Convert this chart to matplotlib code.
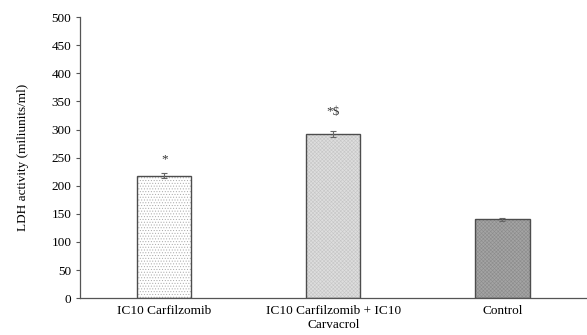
import matplotlib
matplotlib.use("Agg")
import matplotlib.pyplot as plt

categories = ["IC10 Carfilzomib", "IC10 Carfilzomib + IC10\nCarvacrol", "Control"]
values = [218, 292, 140]
errors = [4, 6, 2]
annotations = ["*", "*$", ""]
ann_values = [247, 331, None]

plt.rcParams['font.family'] = ['Liberation Serif', 'DejaVu Serif']
plt.rcParams['hatch.linewidth'] = 0.4

fig = plt.figure(figsize=(5.87, 3.35), dpi=100)
ax = fig.add_axes([0.136, 0.110, 0.864, 0.839])

faces = ['white', '#dedede', '#a4a4a4']
hatches = ['......', 'xxxxxxxxx', 'xxxxxxxxx']
hatchcolors = ['#a8a8a8', '#c6c6c6', '#8c8c8c']
x = list(range(len(categories)))
for i in x:
    plt.rcParams['hatch.color'] = hatchcolors[i]
    ax.bar(i, values[i], width=0.32, color=faces[i], edgecolor=hatchcolors[i],
           linewidth=0, hatch=hatches[i], zorder=2)
    ax.bar(i, values[i], width=0.32, color='none', edgecolor='#4d4d4d',
           linewidth=1.0, zorder=3)
ax.errorbar(x, values, yerr=errors, fmt='none', ecolor='#666666',
            elinewidth=0.8, capsize=2.5, capthick=0.8, zorder=4)
for i in x:
    if annotations[i]:
        ax.text(i, ann_values[i], annotations[i], ha='center', va='center',
                fontsize=9.5, color='#333333')

ax.set_xlim(-0.5, 2.5)
ax.set_ylim(0, 500)
ax.set_yticks(range(0, 501, 50))
ax.set_xticks(x)
ax.set_xticklabels(categories, fontsize=9.5, linespacing=1.25)
ax.tick_params(axis='x', length=0, pad=5)
ax.tick_params(axis='y', labelsize=9.5, length=3, width=0.8, color='#555555',
               direction='out', pad=3)
for s in ['top', 'right']:
    ax.spines[s].set_visible(False)
for s in ['left', 'bottom']:
    ax.spines[s].set_color('#555555')
    ax.spines[s].set_linewidth(0.9)
ax.set_ylabel("LDH activity (miliunits/ml)", fontsize=9.5, labelpad=16)

fig.savefig("out.png", dpi=100)
